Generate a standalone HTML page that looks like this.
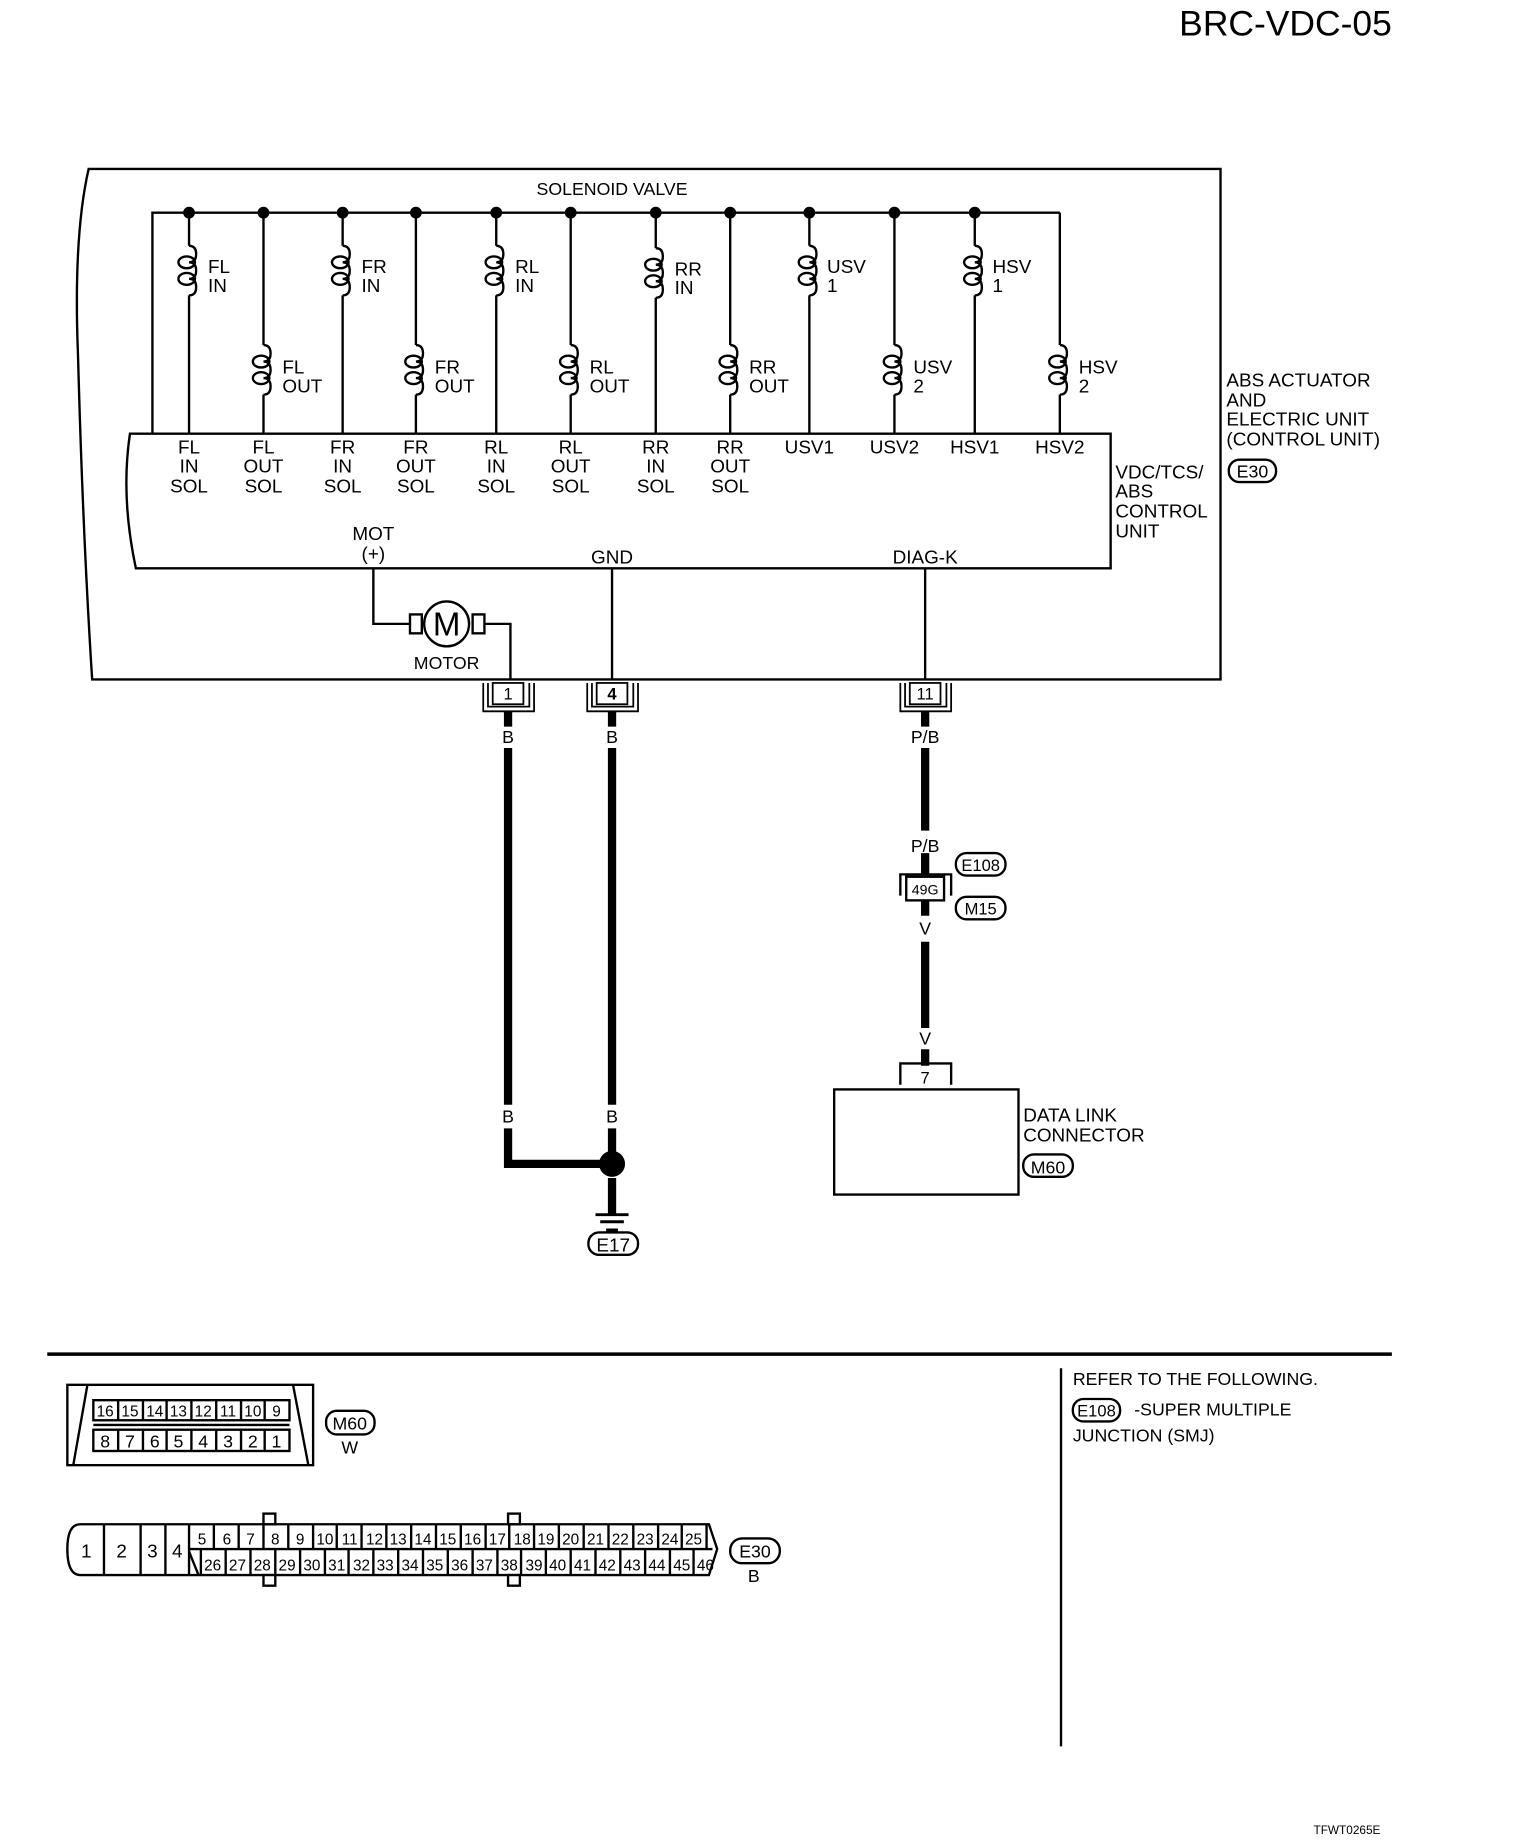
<!DOCTYPE html>
<html><head><meta charset="utf-8"><style>
html,body{margin:0;padding:0;background:#fff;}
svg{display:block;}
text{font-family:"Liberation Sans",Arial,sans-serif;fill:#000;}
</style></head><body>
<svg width="1536" height="1848" viewBox="0 0 1300 1564" preserveAspectRatio="none" xmlns="http://www.w3.org/2000/svg">
<defs>
<g id="coil" fill="none" stroke="#000" stroke-width="2">
<path d="M0,0 q6,0 6,7 q0,7 -6,7 q6,0 6,7 q0,7 -6,7 q6,0 6,7 q0,7 -6,7"/>
<ellipse cx="-2" cy="14" rx="7" ry="5"/>
<ellipse cx="-2" cy="28" rx="7" ry="5"/>
</g>
</defs>
<text x="1178" y="30" font-size="30" text-anchor="end">BRC-VDC-05</text>

<g fill="none" stroke="#000" stroke-width="2">
<path d="M1033,143 H75 Q62,200 66,300 Q70,450 78,575 H1033 Z"/>
<path d="M940,367 H110 Q102,420 115,481 H940 Z" fill="#fff"/>
<path d="M129,367 V180 H897"/>
<!-- columns -->
<path d="M160,180 V208 M160,250 V367"/>
<path d="M223,180 V292 M223,334 V367"/>
<path d="M290,180 V208 M290,250 V367"/>
<path d="M352,180 V292 M352,334 V367"/>
<path d="M420,180 V208 M420,250 V367"/>
<path d="M483,180 V292 M483,334 V367"/>
<path d="M555,180 V210 M555,252 V367"/>
<path d="M618,180 V292 M618,334 V367"/>
<path d="M685,180 V208 M685,250 V367"/>
<path d="M757,180 V292 M757,334 V367"/>
<path d="M825,180 V208 M825,250 V367"/>
<path d="M897,180 V292 M897,334 V367"/>
<!-- motor etc -->
<path d="M316,481 V528 H347 M410,528 H432 V575"/>
<rect x="347" y="520" width="10" height="16"/>
<rect x="400" y="520" width="10" height="16"/>
<circle cx="378" cy="528" r="19"/>
<path d="M518,481 V575 M783,481 V575"/>
</g>
<use href="#coil" x="160" y="208"/><use href="#coil" x="223" y="292"/>
<use href="#coil" x="290" y="208"/><use href="#coil" x="352" y="292"/>
<use href="#coil" x="420" y="208"/><use href="#coil" x="483" y="292"/>
<use href="#coil" x="555" y="210"/><use href="#coil" x="618" y="292"/>
<use href="#coil" x="685" y="208"/><use href="#coil" x="757" y="292"/>
<use href="#coil" x="825" y="208"/><use href="#coil" x="897" y="292"/>
<g fill="#000">
<circle cx="160" cy="180" r="5"/><circle cx="223" cy="180" r="5"/><circle cx="290" cy="180" r="5"/><circle cx="352" cy="180" r="5"/><circle cx="420" cy="180" r="5"/><circle cx="483" cy="180" r="5"/><circle cx="555" cy="180" r="5"/><circle cx="618" cy="180" r="5"/><circle cx="685" cy="180" r="5"/><circle cx="757" cy="180" r="5"/><circle cx="825" cy="180" r="5"/>
</g>
<text x="378" y="538" font-size="28" text-anchor="middle">M</text>
<text x="378" y="566" font-size="15" text-anchor="middle">MOTOR</text>

<g font-size="16">
<text x="518" y="165" text-anchor="middle" font-size="15">SOLENOID VALVE</text>
<text x="176" y="231">FL</text><text x="176" y="247">IN</text>
<text x="239" y="316">FL</text><text x="239" y="332">OUT</text>
<text x="306" y="231">FR</text><text x="306" y="247">IN</text>
<text x="368" y="316">FR</text><text x="368" y="332">OUT</text>
<text x="436" y="231">RL</text><text x="436" y="247">IN</text>
<text x="499" y="316">RL</text><text x="499" y="332">OUT</text>
<text x="571" y="233">RR</text><text x="571" y="249">IN</text>
<text x="634" y="316">RR</text><text x="634" y="332">OUT</text>
<text x="700" y="231">USV</text><text x="700" y="247">1</text>
<text x="773" y="316">USV</text><text x="773" y="332">2</text>
<text x="840" y="231">HSV</text><text x="840" y="247">1</text>
<text x="913" y="316">HSV</text><text x="913" y="332">2</text>
</g>
<g font-size="16" text-anchor="middle">
<text x="160" y="384">FL</text><text x="160" y="400">IN</text><text x="160" y="417">SOL</text>
<text x="223" y="384">FL</text><text x="223" y="400">OUT</text><text x="223" y="417">SOL</text>
<text x="290" y="384">FR</text><text x="290" y="400">IN</text><text x="290" y="417">SOL</text>
<text x="352" y="384">FR</text><text x="352" y="400">OUT</text><text x="352" y="417">SOL</text>
<text x="420" y="384">RL</text><text x="420" y="400">IN</text><text x="420" y="417">SOL</text>
<text x="483" y="384">RL</text><text x="483" y="400">OUT</text><text x="483" y="417">SOL</text>
<text x="555" y="384">RR</text><text x="555" y="400">IN</text><text x="555" y="417">SOL</text>
<text x="618" y="384">RR</text><text x="618" y="400">OUT</text><text x="618" y="417">SOL</text>
<text x="685" y="384">USV1</text><text x="757" y="384">USV2</text>
<text x="825" y="384">HSV1</text><text x="897" y="384">HSV2</text>
<text x="316" y="457">MOT</text><text x="316" y="474">(+)</text>
<text x="518" y="477">GND</text><text x="783" y="477">DIAG-K</text>
</g>
<g font-size="16">
<text x="944" y="405">VDC/TCS/</text><text x="944" y="421">ABS</text><text x="944" y="438">CONTROL</text><text x="944" y="455">UNIT</text>
<text x="1038" y="327">ABS ACTUATOR</text><text x="1038" y="344">AND</text><text x="1038" y="360">ELECTRIC UNIT</text><text x="1038" y="377">(CONTROL UNIT)</text>
</g>
<g fill="none" stroke="#000" stroke-width="2">
<rect x="1040" y="389" width="40" height="19" rx="9"/>
</g>
<text x="1060" y="404" font-size="15" text-anchor="middle">E30</text>

<!-- connectors 1,4,11 -->
<g fill="none" stroke="#000" stroke-width="1.5">
<path d="M409,578 V602 H452 V578 M413,578 V598 H448 V578"/><rect x="417" y="578" width="26" height="18" fill="#fff"/>
<path d="M497,578 V602 H540 V578 M501,578 V598 H536 V578"/><rect x="505" y="578" width="26" height="18" fill="#fff"/>
<path d="M762,578 V602 H805 V578 M766,578 V598 H801 V578"/><rect x="770" y="578" width="26" height="18" fill="#fff"/>
</g>
<g font-size="14" text-anchor="middle">
<text x="430" y="592">1</text><text x="518" y="592" font-weight="bold">4</text><text x="783" y="592">11</text>
</g>
<!-- thick wires -->
<g stroke="#000" stroke-width="7" fill="none">
<path d="M430,602 V615 M430,633 V935 M430,955 V985 H508"/>
<path d="M518,602 V615 M518,633 V935 M518,955 V975 M518,997 V1028"/>
<path d="M783,602 V615 M783,633 V703 M783,722 V740 M783,762 V775 M783,797 V870 M783,888 V902"/>
</g>
<circle cx="518" cy="985" r="11" fill="#000"/>
<g stroke="#000" stroke-width="2.5">
<path d="M504,1028 H532 M508,1034 H528 M513,1041 H523"/>
</g>
<g font-size="15" text-anchor="middle">
<text x="430" y="629">B</text><text x="518" y="629">B</text><text x="430" y="950">B</text><text x="518" y="950">B</text>
<text x="783" y="629">P/B</text><text x="783" y="721">P/B</text><text x="783" y="791">V</text><text x="783" y="884">V</text>
</g>
<g fill="none" stroke="#000" stroke-width="2">
<path d="M762,758 V740 H805 V758"/><rect x="767" y="742" width="32" height="20" fill="#fff"/>
<rect x="498" y="1043" width="42" height="19" rx="9"/>
<rect x="809" y="722" width="42" height="19" rx="9"/>
<rect x="809" y="759" width="42" height="19" rx="9"/>
<path d="M762,918 V900 H805 V918"/>
<rect x="706" y="922" width="156" height="89"/>
<rect x="866" y="977" width="42" height="19" rx="9"/>
</g>
<g font-size="14" text-anchor="middle">
<text x="783" y="757" font-size="12">49G</text>
<text x="519" y="1059" font-size="16">E17</text>
<text x="830" y="737">E108</text><text x="830" y="774">M15</text>
<text x="783" y="917">7</text>
<text x="887" y="993" font-size="15">M60</text>
</g>
<g font-size="16"><text x="866" y="949">DATA LINK</text><text x="866" y="966">CONNECTOR</text></g>

<!-- bottom section -->
<path d="M40,1146 H1178" stroke="#000" stroke-width="3"/>
<path d="M898,1158 V1478" stroke="#000" stroke-width="2"/>
<g font-size="15">
<text x="908" y="1172">REFER TO THE FOLLOWING.</text>
<text x="960" y="1198">-SUPER MULTIPLE</text>
<text x="908" y="1220">JUNCTION (SMJ)</text>
</g>
<rect x="908" y="1184" width="40" height="19" rx="9" fill="none" stroke="#000" stroke-width="2"/>
<text x="928" y="1199" font-size="14" text-anchor="middle">E108</text>

<!-- M60 connector -->
<g fill="none" stroke="#000" stroke-width="2">
<rect x="57" y="1172" width="208" height="68"/>
<path d="M74,1172 L62,1240 M248,1172 L261,1240"/>
<rect x="79" y="1185" width="166" height="17"/>
<rect x="79" y="1210" width="166" height="18"/>
<path d="M79,1206 H245" stroke-width="2"/>
<path d="M100,1185 V1202 M121,1185 V1202 M141,1185 V1202 M162,1185 V1202 M183,1185 V1202 M204,1185 V1202 M224,1185 V1202"/>
<path d="M100,1210 V1228 M121,1210 V1228 M141,1210 V1228 M162,1210 V1228 M183,1210 V1228 M204,1210 V1228 M224,1210 V1228"/>
<rect x="276" y="1194" width="41" height="20" rx="9"/>
</g>
<g font-size="13" text-anchor="middle">
<text x="89" y="1199">16</text><text x="110" y="1199">15</text><text x="131" y="1199">14</text><text x="151" y="1199">13</text><text x="172" y="1199">12</text><text x="193" y="1199">11</text><text x="214" y="1199">10</text><text x="234" y="1199">9</text>
<text x="89" y="1225" font-size="15">8</text><text x="110" y="1225" font-size="15">7</text><text x="131" y="1225" font-size="15">6</text><text x="151" y="1225" font-size="15">5</text><text x="172" y="1225" font-size="15">4</text><text x="193" y="1225" font-size="15">3</text><text x="214" y="1225" font-size="15">2</text><text x="234" y="1225" font-size="15">1</text>
<text x="296" y="1210" font-size="15">M60</text><text x="296" y="1230" font-size="15">W</text>
</g>

<!-- E30 connector -->
<g fill="none" stroke="#000" stroke-width="2">
<path d="M68,1290 H600 L607,1311 L600,1333 H68 Q57,1333 57,1311 Q57,1290 68,1290 Z"/>
<path d="M88,1290 V1333 M119,1290 V1333 M140,1290 V1333 M160,1290 V1333 M160,1311 H603"/>
<path d="M160,1313 L168,1333"/>
<path d="M181,1290V1311 M202,1290V1311 M223,1290V1311 M244,1290V1311 M265,1290V1311 M285,1290V1311 M306,1290V1311 M327,1290V1311 M348,1290V1311 M369,1290V1311 M390,1290V1311 M411,1290V1311 M431,1290V1311 M452,1290V1311 M473,1290V1311 M494,1290V1311 M515,1290V1311 M536,1290V1311 M557,1290V1311 M577,1290V1311 M598,1290V1311"/>
<path d="M170,1311V1333 M191,1311V1333 M212,1311V1333 M233,1311V1333 M254,1311V1333 M275,1311V1333 M295,1311V1333 M316,1311V1333 M337,1311V1333 M358,1311V1333 M379,1311V1333 M400,1311V1333 M421,1311V1333 M441,1311V1333 M462,1311V1333 M483,1311V1333 M504,1311V1333 M525,1311V1333 M546,1311V1333 M567,1311V1333 M587,1311V1333"/>
<rect x="223" y="1281" width="10" height="9" fill="#fff"/><rect x="223" y="1333" width="10" height="9" fill="#fff"/>
<rect x="430" y="1281" width="10" height="9" fill="#fff"/><rect x="430" y="1333" width="10" height="9" fill="#fff"/>
<rect x="618" y="1302" width="42" height="21" rx="10"/>
</g>
<g font-size="16" text-anchor="middle">
<text x="73" y="1318">1</text><text x="103" y="1318">2</text><text x="129" y="1318">3</text><text x="150" y="1318">4</text>
</g>
<g font-size="13" text-anchor="middle">
<text x="171" y="1307">5</text><text x="192" y="1307">6</text><text x="212" y="1307">7</text><text x="233" y="1307">8</text><text x="254" y="1307">9</text><text x="275" y="1307">10</text><text x="296" y="1307">11</text><text x="317" y="1307">12</text><text x="337" y="1307">13</text><text x="358" y="1307">14</text><text x="379" y="1307">15</text><text x="400" y="1307">16</text><text x="421" y="1307">17</text><text x="442" y="1307">18</text><text x="462" y="1307">19</text><text x="483" y="1307">20</text><text x="504" y="1307">21</text><text x="525" y="1307">22</text><text x="546" y="1307">23</text><text x="567" y="1307">24</text><text x="587" y="1307">25</text>
<text x="180" y="1329">26</text><text x="201" y="1329">27</text><text x="222" y="1329">28</text><text x="243" y="1329">29</text><text x="264" y="1329">30</text><text x="285" y="1329">31</text><text x="306" y="1329">32</text><text x="326" y="1329">33</text><text x="347" y="1329">34</text><text x="368" y="1329">35</text><text x="389" y="1329">36</text><text x="410" y="1329">37</text><text x="431" y="1329">38</text><text x="452" y="1329">39</text><text x="472" y="1329">40</text><text x="493" y="1329">41</text><text x="514" y="1329">42</text><text x="535" y="1329">43</text><text x="556" y="1329">44</text><text x="577" y="1329">45</text><text x="597" y="1329">46</text>
</g>
<text x="639" y="1318" font-size="15" text-anchor="middle">E30</text>
<text x="638" y="1339" font-size="15" text-anchor="middle">B</text>

<text x="1140" y="1552" font-size="10" text-anchor="middle">TFWT0265E</text>
</svg>
</body></html>
